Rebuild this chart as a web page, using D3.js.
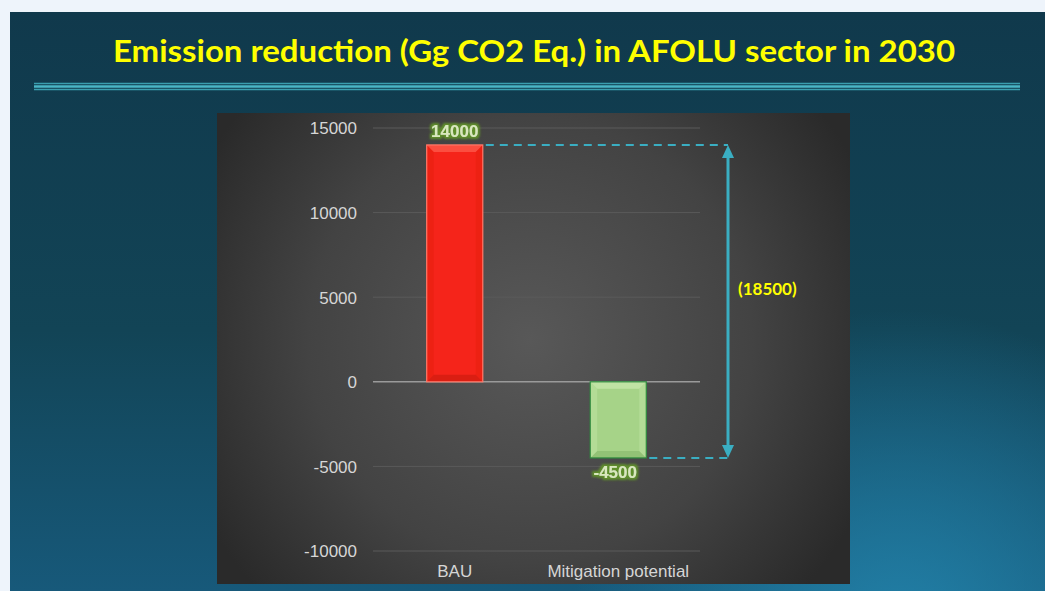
<!DOCTYPE html>
<html>
<head>
<meta charset="utf-8">
<script src="https://cdn.jsdelivr.net/npm/d3@7"></script>
<style>
  html, body { margin: 0; padding: 0; background: #eef4fb; }
  svg { display: block; }
</style>
</head>
<body>
<div id="chart"></div>
<script>
// chart values
const categories = ["BAU", "Mitigation potential"];
const values = [14000, -4500];
const yTicks = [-10000, -5000, 0, 5000, 10000, 15000];
const spanLabel = "(18500)";
const title = "Emission reduction (Gg CO2 Eq.) in AFOLU sector in 2030";

const W = 1045, H = 591;
const fmt = d => String(d); // plain hyphen minus, like the slide

const svg = d3.select("#chart").append("svg")
    .attr("width", W)
    .attr("height", H);

const defs = svg.append("defs");

// slide background
let slideGrad = defs.append("linearGradient")
    .attr("id", "slideGrad")
    .attr("x1", 0).attr("y1", 0).attr("x2", 0).attr("y2", 1);
slideGrad.append("stop").attr("offset", "0%").attr("stop-color", "#10394c");
slideGrad.append("stop").attr("offset", "55%").attr("stop-color", "#124456");
slideGrad.append("stop").attr("offset", "100%").attr("stop-color", "#17597a");

let glowGrad = defs.append("radialGradient")
    .attr("id", "glowGrad")
    .attr("gradientUnits", "userSpaceOnUse")
    .attr("cx", 900).attr("cy", 640).attr("r", 330);
glowGrad.append("stop").attr("offset", "0%").attr("stop-color", "#2385ad").attr("stop-opacity", 0.9);
glowGrad.append("stop").attr("offset", "100%").attr("stop-color", "#2385ad").attr("stop-opacity", 0);

// chart panel background
let panelGrad = defs.append("radialGradient")
    .attr("id", "panelGrad")
    .attr("gradientUnits", "userSpaceOnUse")
    .attr("cx", 530).attr("cy", 340).attr("r", 370);
panelGrad.append("stop").attr("offset", "0%").attr("stop-color", "#585858");
panelGrad.append("stop").attr("offset", "60%").attr("stop-color", "#434343");
panelGrad.append("stop").attr("offset", "100%").attr("stop-color", "#2a2a2a");

// glow for data labels
let glow = defs.append("filter").attr("id", "glow")
    .attr("x", "-20%").attr("y", "-40%").attr("width", "140%").attr("height", "180%");
glow.append("feMorphology").attr("in", "SourceAlpha").attr("operator", "dilate")
    .attr("radius", 1.5).attr("result", "thick");
glow.append("feGaussianBlur").attr("in", "thick").attr("stdDeviation", 1).attr("result", "blur");
glow.append("feFlood").attr("flood-color", "#5f8f2a");
glow.append("feComposite").attr("in2", "blur").attr("operator", "in").attr("result", "halo");
let merge = glow.append("feMerge");
merge.append("feMergeNode").attr("in", "halo");
merge.append("feMergeNode").attr("in", "SourceGraphic");

svg.append("rect").attr("x", 10).attr("y", 12).attr("width", W - 10).attr("height", H - 12)
    .attr("fill", "url(#slideGrad)");
svg.append("rect").attr("x", 10).attr("y", 12).attr("width", W - 10).attr("height", H - 12)
    .attr("fill", "url(#glowGrad)");

// title
svg.append("text")
    .attr("x", 534)
    .attr("y", 62)
    .attr("text-anchor", "middle")
    .attr("textLength", 842)
    .attr("lengthAdjust", "spacingAndGlyphs")
    .style("font-family", "Lato, 'Open Sans', sans-serif")
    .style("font-weight", "bold")
    .style("font-size", "31px")
    .style("fill", "#ffff00")
    .text(title);

// separator lines
[[83.5, 1.4, "#3a9fb0"], [86.5, 2.4, "#4ab6c6"], [89.5, 1.4, "#3a9fb0"]].forEach(l => {
    svg.append("line")
        .attr("x1", 34).attr("x2", 1020)
        .attr("y1", l[0]).attr("y2", l[0])
        .attr("stroke", l[2])
        .attr("stroke-width", l[1]);
});

// chart panel
svg.append("rect")
    .attr("x", 217).attr("y", 113)
    .attr("width", 633).attr("height", 471)
    .attr("fill", "url(#panelGrad)");

let y = d3.scaleLinear()
    .domain([-10000, 15000])
    .range([551, 128]);

let x = d3.scaleBand()
    .domain(categories)
    .range([373, 700])
    .paddingInner(0.657)
    .paddingOuter(0.3285);

// gridlines
svg.append("g")
    .selectAll("line")
    .data(yTicks)
    .enter()
    .append("line")
    .attr("x1", 373).attr("x2", 700)
    .attr("y1", d => y(d)).attr("y2", d => y(d))
    .attr("stroke", d => d === 0 ? "#9a9a9a" : "#5a5a5a")
    .attr("stroke-width", d => d === 0 ? 1.5 : 1);

// y axis labels
let yAxis = d3.axisLeft(y).tickValues(yTicks).tickSize(0).tickPadding(0).tickFormat(fmt);
let gy = svg.append("g")
    .attr("transform", "translate(357,0)")
    .call(yAxis);
gy.select(".domain").remove();
gy.selectAll("text")
    .attr("dy", "0.35em")
    .style("font-family", "'Liberation Sans', Arial, sans-serif")
    .style("font-size", "17px")
    .style("fill", "#d6d6d6");

// x axis labels
let xAxis = d3.axisBottom(x).tickSize(0).tickPadding(0);
let gx = svg.append("g")
    .attr("transform", "translate(0,565)")
    .call(xAxis);
gx.select(".domain").remove();
gx.selectAll("text")
    .attr("dy", "0.71em")
    .style("font-family", "'Liberation Sans', Arial, sans-serif")
    .style("font-size", "17px")
    .style("fill", "#d6d6d6");

// bars with bevel
const barStyle = [
    { fill: "#f5241a", light: "#ff6a5a", dark: "#c81a0e", side: "#e8200f", border: "#ff7a6a" },
    { fill: "#a6d388", light: "#d2efb8", dark: "#86b86a", side: "#bde3a0", border: "#2e8b3e" }
];

let bars = svg.append("g");
values.forEach((v, i) => {
    let x0 = x(categories[i]), x1 = x0 + x.bandwidth();
    let y0 = y(Math.max(v, 0)), y1 = y(Math.min(v, 0));
    let b = 7, s = barStyle[i];
    let g = bars.append("g");
    g.append("rect")
        .attr("x", x0).attr("y", y0)
        .attr("width", x1 - x0).attr("height", y1 - y0)
        .attr("fill", s.fill);
    // bevel edges
    let pts = [
        [[x0, y0], [x1, y0], [x1 - b, y0 + b], [x0 + b, y0 + b], s.light],
        [[x0, y1], [x1, y1], [x1 - b, y1 - b], [x0 + b, y1 - b], s.dark],
        [[x0, y0], [x0 + b, y0 + b], [x0 + b, y1 - b], [x0, y1], s.side],
        [[x1, y0], [x1 - b, y0 + b], [x1 - b, y1 - b], [x1, y1], s.side]
    ];
    pts.forEach(p => {
        g.append("polygon")
            .attr("points", p.slice(0, 4).map(q => q.join(",")).join(" "))
            .attr("fill", p[4])
            .attr("opacity", 0.6);
    });
    g.append("rect")
        .attr("x", x0).attr("y", y0)
        .attr("width", x1 - x0).attr("height", y1 - y0)
        .attr("fill", "none")
        .attr("stroke", s.border)
        .attr("stroke-width", 1.2);
});

// data labels
svg.append("g")
    .selectAll("text")
    .data(values)
    .enter()
    .append("text")
    .attr("x", (d, i) => x(categories[i]) + x.bandwidth() / 2 - (d < 0 ? 3 : 0))
    .attr("y", d => d >= 0 ? y(d) - 8 : y(d) + 20)
    .attr("text-anchor", "middle")
    .attr("filter", "url(#glow)")
    .style("font-family", "'Liberation Sans', Arial, sans-serif")
    .style("font-weight", "bold")
    .style("font-size", "17px")
    .style("fill", "#d9e8bd")
    .text(fmt);

// difference marker
const arrowX = 728;
const teal = "#3aaec2";
let topV = d3.max(values), botV = d3.min(values);
let xRightTop = x(categories[0]) + x.bandwidth();
let xRightBot = x(categories[1]) + x.bandwidth();

svg.append("line")
    .attr("x1", xRightTop + 3).attr("x2", arrowX)
    .attr("y1", y(topV)).attr("y2", y(topV))
    .attr("stroke", teal).attr("stroke-width", 2)
    .attr("stroke-dasharray", "8,6");
svg.append("line")
    .attr("x1", xRightBot + 3).attr("x2", arrowX)
    .attr("y1", y(botV)).attr("y2", y(botV))
    .attr("stroke", teal).attr("stroke-width", 2)
    .attr("stroke-dasharray", "8,6");

let yTop = y(topV), yBot = y(botV);
svg.append("line")
    .attr("x1", arrowX).attr("x2", arrowX)
    .attr("y1", yTop + 10).attr("y2", yBot - 10)
    .attr("stroke", teal).attr("stroke-width", 3);
svg.append("polygon")
    .attr("points", [[arrowX, yTop], [arrowX - 6, yTop + 13], [arrowX + 6, yTop + 13]].map(p => p.join(",")).join(" "))
    .attr("fill", teal);
svg.append("polygon")
    .attr("points", [[arrowX, yBot], [arrowX - 6, yBot - 13], [arrowX + 6, yBot - 13]].map(p => p.join(",")).join(" "))
    .attr("fill", teal);

svg.append("text")
    .attr("x", 738)
    .attr("y", 295)
    .style("font-family", "Lato, 'Open Sans', sans-serif")
    .style("font-weight", "bold")
    .style("font-size", "17px")
    .style("fill", "#ffff00")
    .text(spanLabel);
</script>
</body>
</html>
